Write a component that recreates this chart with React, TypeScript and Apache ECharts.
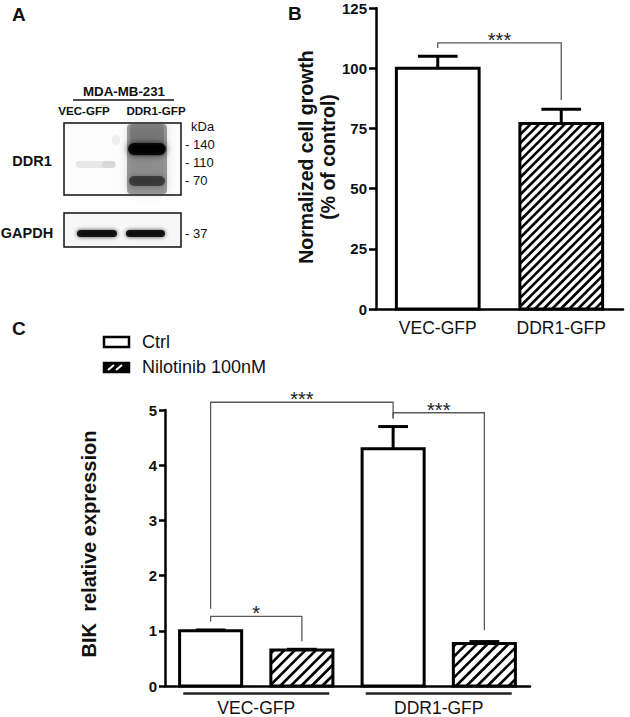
import React, { useEffect, useRef } from "react";
import * as echarts from "echarts";

// ---------- Panel B data ----------
const growthCategories = ["VEC-GFP", "DDR1-GFP"];
const growthValues = [100, 77];
const growthErrors = [5, 6];
const growthHatched = [0, 1];
// bracket: [catStart, offStart, catEnd, offEnd, topValue, leftEndValue, rightEndValue]
const growthBrackets = [[0, 0, 1, 0, 110.5, 108.4, 86.8]];
const growthBracketLabels = ["***"];

// ---------- Panel C data ----------
const bikCategories = ["VEC-GFP", "DDR1-GFP"];
const legendNames = ["Ctrl", "Nilotinib 100nM"];
const bikCtrl = [1.0, 4.3];
const bikCtrlErr = [0.015, 0.4];
const bikNilo = [0.65, 0.77];
const bikNiloErr = [0.015, 0.035];
const bikBrackets = [
  [0, -0.25, 1, -0.25, 5.14, 1.4, 4.86],
  [1, -0.25, 1, 0.25, 4.95, 4.84, 1.01],
  [0, -0.25, 0, 0.25, 1.26, 1.17, 0.81],
];
const bikBracketLabels = ["***", "***", "*"];

// ---------- Panel A texts ----------
const blotCellLine = "MDA-MB-231";
const blotLanes = ["VEC-GFP", "DDR1-GFP"];
const blotRows = ["DDR1", "GAPDH"];
const markerLabels = ["kDa", "- 140", "- 110", "- 70", "- 37"];

const FONT = "'Liberation Sans', Arial, Helvetica, sans-serif";

function makeBarRender(widthFrac: number, capFrac: number, spacing: number, hatchWidth: number) {
  return (params: any, api: any) => {
    const ci = api.value(0);
    const v = api.value(1);
    const err = api.value(2);
    const off = api.value(3);
    const hatched = api.value(4);
    const band = api.size([1, 0])[0];
    const p0 = api.coord([ci, 0]);
    const p1 = api.coord([ci, v]);
    const pe = api.coord([ci, v + err]);
    const cx = p0[0] + off * band;
    const w = band * widthFrac;
    const x0 = cx - w / 2;
    const x1 = cx + w / 2;
    const yTop = p1[1];
    const yBot = p0[1];
    const children: any[] = [
      { type: "rect", shape: { x: x0, y: yTop, width: w, height: yBot - yTop }, style: { fill: "#fff" } },
    ];
    if (hatched) {
      for (let c = x0 + yTop + spacing * 0.3; c < x1 + yBot; c += spacing) {
        const xs = Math.max(x0, c - yBot);
        const xe = Math.min(x1, c - yTop);
        if (xe > xs) {
          children.push({
            type: "line",
            shape: { x1: xs, y1: c - xs, x2: xe, y2: c - xe },
            style: { stroke: "#000", lineWidth: hatchWidth },
          });
        }
      }
    }
    children.push({
      type: "rect",
      shape: { x: x0, y: yTop, width: w, height: yBot - yTop },
      style: { fill: null, stroke: "#000", lineWidth: 3 },
    });
    if (err > 0) {
      children.push({
        type: "line",
        shape: { x1: cx, y1: yTop, x2: cx, y2: pe[1] },
        style: { stroke: "#000", lineWidth: 3 },
      });
      const cw = (w * capFrac) / 2;
      children.push({
        type: "line",
        shape: { x1: cx - cw, y1: pe[1], x2: cx + cw, y2: pe[1] },
        style: { stroke: "#000", lineWidth: 3 },
      });
    }
    return { type: "group", children };
  };
}

function makeBracketRender(labels: string[]) {
  return (params: any, api: any) => {
    const c0 = api.value(0);
    const o0 = api.value(1);
    const c1 = api.value(2);
    const o1 = api.value(3);
    const top = api.value(4);
    const le = api.value(5);
    const re = api.value(6);
    const band = api.size([1, 0])[0];
    const pl = api.coord([c0, top]);
    const pr = api.coord([c1, top]);
    const xL = pl[0] + o0 * band;
    const xR = pr[0] + o1 * band;
    const yT = pl[1];
    const yL = api.coord([c0, le])[1];
    const yR = api.coord([c1, re])[1];
    return {
      type: "group",
      children: [
        {
          type: "polyline",
          shape: { points: [[xL, yL], [xL, yT], [xR, yT], [xR, yR]] },
          style: { stroke: "#5a5a5a", lineWidth: 1.3, fill: null },
        },
        {
          type: "text",
          x: (xL + xR) / 2,
          y: yT - 3,
          style: {
            text: labels[params.dataIndex],
            font: `20px ${FONT}`,
            fill: "#222",
            align: "center",
            verticalAlign: "middle",
            textAlign: "center",
            textVerticalAlign: "middle",
          },
        },
      ],
    };
  };
}

function groupLineRender(params: any, api: any) {
  const ci = api.value(0);
  const band = api.size([1, 0])[0];
  const p = api.coord([ci, 0]);
  const hw = band * 0.4;
  return {
    type: "line",
    shape: { x1: p[0] - hw, y1: p[1] + 7.5, x2: p[0] + hw, y2: p[1] + 7.5 },
    style: { stroke: "#222", lineWidth: 2.5 },
  };
}

function blotGraphics(): any[] {
  const g: any[] = [];
  const txt = (text: string, x: number, y: number, font: string, align = "center") => ({
    type: "text",
    x,
    y,
    style: { text, font, fill: "#111", align, verticalAlign: "middle", textAlign: align, textVerticalAlign: "middle" },
  });
  const blur = (x: number, y: number, w: number, h: number, r: number, fill: string, b: number) => ({
    type: "rect",
    shape: { x, y, width: w, height: h, r },
    style: { fill, shadowBlur: b, shadowColor: fill },
  });
  // titles
  g.push(txt(blotCellLine, 124, 91, `bold 13.3px ${FONT}`));
  g.push({ type: "line", shape: { x1: 73, y1: 100, x2: 174, y2: 100 }, style: { stroke: "#111", lineWidth: 1.5 } });
  g.push(txt(blotLanes[0], 84, 110.5, `bold 11.6px ${FONT}`));
  g.push(txt(blotLanes[1], 156, 110.5, `bold 11.6px ${FONT}`));
  g.push(txt(blotRows[0], 32, 161, `bold 14.5px ${FONT}`));
  g.push(txt(blotRows[1], 27, 233, `bold 14.5px ${FONT}`));
  g.push(txt("*", 69, 167, `15px ${FONT}`));
  // marker labels
  g.push(txt(markerLabels[0], 191, 126, `13px ${FONT}`, "left"));
  g.push(txt(markerLabels[1], 185, 144, `13px ${FONT}`, "left"));
  g.push(txt(markerLabels[2], 185, 162, `13px ${FONT}`, "left"));
  g.push(txt(markerLabels[3], 185, 180, `13px ${FONT}`, "left"));
  g.push(txt(markerLabels[4], 185, 233, `13px ${FONT}`, "left"));

  // DDR1 blot
  g.push({ type: "rect", shape: { x: 64, y: 123, width: 117, height: 72 }, style: { fill: "#fcfcfc" } });
  // smear lane
  g.push(blur(127, 124, 40, 70, 4, "rgba(0,0,0,0.36)", 9));
  g.push(blur(130, 124, 34, 32, 4, "rgba(0,0,0,0.14)", 6));
  // upper band
  g.push(blur(128, 143, 38, 12, 6, "rgba(0,0,0,0.85)", 6));
  g.push(blur(131, 145, 32, 8, 4, "rgba(0,0,0,0.9)", 3));
  // lower band
  g.push(blur(129, 176, 36, 10, 5, "rgba(0,0,0,0.5)", 5));
  // faint VEC band
  g.push(blur(76, 161, 40, 7, 3, "rgba(0,0,0,0.08)", 5));
  g.push(blur(102, 161, 13, 7, 3, "rgba(0,0,0,0.06)", 4));
  g.push(blur(112, 135, 8, 10, 4, "rgba(0,0,0,0.05)", 4));
  g.push({ type: "rect", shape: { x: 64, y: 123, width: 117, height: 72 }, style: { fill: null, stroke: "#111", lineWidth: 1.5 } });

  // GAPDH blot
  g.push({ type: "rect", shape: { x: 64, y: 213, width: 117, height: 34 }, style: { fill: "#f7f7f7" } });
  g.push(blur(77, 230, 40, 7, 3.5, "rgba(0,0,0,0.85)", 4));
  g.push(blur(126, 230, 39, 7, 3.5, "rgba(0,0,0,0.85)", 4));
  g.push({ type: "rect", shape: { x: 64, y: 213, width: 117, height: 34 }, style: { fill: null, stroke: "#111", lineWidth: 1.5 } });
  return g;
}

function legendGraphics(): any[] {
  const g: any[] = [];
  g.push({ type: "rect", shape: { x: 104, y: 337, width: 25, height: 10 }, style: { fill: "#fff", stroke: "#000", lineWidth: 2.5 } });
  g.push({ type: "rect", shape: { x: 102.75, y: 361.75, width: 27.5, height: 11.5 }, style: { fill: "#000" } });
  g.push({ type: "line", shape: { x1: 108, y1: 370, x2: 114, y2: 365 }, style: { stroke: "#fff", lineWidth: 2 } });
  g.push({ type: "line", shape: { x1: 116, y1: 370, x2: 122, y2: 365 }, style: { stroke: "#fff", lineWidth: 2 } });
  const t = (text: string, y: number) => ({
    type: "text",
    x: 142,
    y,
    style: { text, font: `18px ${FONT}`, fill: "#111", align: "left", verticalAlign: "middle", textAlign: "left", textVerticalAlign: "middle" },
  });
  g.push(t(legendNames[0], 342));
  g.push(t(legendNames[1], 367));
  return g;
}

export default function App() {
  const ref = useRef<HTMLDivElement>(null);
  useEffect(() => {
    if (!ref.current) return;
    const chart = echarts.init(ref.current, undefined, { renderer: "svg" });
    const axisLineStyle = { color: "#000", width: 2.5 };
    const option: any = {
      animation: false,
      backgroundColor: "#fff",
      grid: [
        { left: 376, top: 8, width: 247, height: 301 },
        { left: 165, top: 410, width: 365, height: 278 },
      ],
      xAxis: [
        {
          type: "category",
          gridIndex: 0,
          data: growthCategories,
          axisLine: { lineStyle: axisLineStyle },
          axisTick: { show: false },
          axisLabel: { color: "#111", fontSize: 17.5, fontFamily: FONT, margin: 10 },
        },
        {
          type: "category",
          gridIndex: 1,
          data: bikCategories,
          axisLine: { lineStyle: axisLineStyle },
          axisTick: { show: false },
          axisLabel: { color: "#111", fontSize: 17.5, fontFamily: FONT, margin: 13 },
        },
      ],
      yAxis: [
        {
          type: "value",
          gridIndex: 0,
          min: 0,
          max: 125,
          interval: 25,
          axisLine: { show: true, lineStyle: axisLineStyle },
          axisTick: { show: true, length: 7, lineStyle: axisLineStyle },
          splitLine: { show: false },
          axisLabel: { color: "#111", fontSize: 15, fontWeight: "bold", fontFamily: FONT, margin: 9 },
        },
        {
          type: "value",
          gridIndex: 1,
          min: 0,
          max: 5,
          interval: 1,
          axisLine: { show: true, lineStyle: axisLineStyle },
          axisTick: { show: true, length: 6, lineStyle: axisLineStyle },
          splitLine: { show: false },
          axisLabel: { color: "#111", fontSize: 15, fontWeight: "bold", fontFamily: FONT, margin: 8 },
        },
      ],
      series: [
        {
          type: "custom",
          xAxisIndex: 0,
          yAxisIndex: 0,
          clip: false,
          renderItem: makeBarRender(0.67, 0.48, 8.6, 2.6),
          data: growthValues.map((v, i) => [i, v, growthErrors[i], 0, growthHatched[i]]),
        },
        {
          type: "custom",
          xAxisIndex: 0,
          yAxisIndex: 0,
          clip: false,
          renderItem: makeBracketRender(growthBracketLabels),
          data: growthBrackets,
        },
        {
          type: "custom",
          name: legendNames[0],
          xAxisIndex: 1,
          yAxisIndex: 1,
          clip: false,
          renderItem: makeBarRender(0.34, 0.48, 10.5, 2.6),
          data: bikCtrl.map((v, i) => [i, v, bikCtrlErr[i], -0.25, 0]),
        },
        {
          type: "custom",
          name: legendNames[1],
          xAxisIndex: 1,
          yAxisIndex: 1,
          clip: false,
          renderItem: makeBarRender(0.34, 0.48, 10.5, 2.6),
          data: bikNilo.map((v, i) => [i, v, bikNiloErr[i], 0.25, 1]),
        },
        {
          type: "custom",
          xAxisIndex: 1,
          yAxisIndex: 1,
          clip: false,
          renderItem: makeBracketRender(bikBracketLabels),
          data: bikBrackets,
        },
        {
          type: "custom",
          xAxisIndex: 1,
          yAxisIndex: 1,
          clip: false,
          renderItem: groupLineRender,
          data: bikCategories.map((_, i) => [i]),
        },
      ],
      graphic: [
        { type: "text", x: 12, y: 14, style: { text: "A", font: `bold 19px ${FONT}`, fill: "#111", verticalAlign: "middle", textVerticalAlign: "middle" } },
        { type: "text", x: 288, y: 13, style: { text: "B", font: `bold 19px ${FONT}`, fill: "#111", verticalAlign: "middle", textVerticalAlign: "middle" } },
        { type: "text", x: 12, y: 328, style: { text: "C", font: `bold 19px ${FONT}`, fill: "#111", verticalAlign: "middle", textVerticalAlign: "middle" } },
        {
          type: "text",
          x: 317,
          y: 157,
          rotation: Math.PI / 2,
          style: {
            text: "Normalized cell growth\n(% of control)",
            font: `bold 19.5px ${FONT}`,
            lineHeight: 22,
            fill: "#111",
            align: "center",
            verticalAlign: "middle",
            textAlign: "center",
            textVerticalAlign: "middle",
          },
        },
        {
          type: "text",
          x: 89,
          y: 544,
          rotation: Math.PI / 2,
          style: {
            text: "BIK  relative expression",
            font: `bold 20px ${FONT}`,
            fill: "#111",
            align: "center",
            verticalAlign: "middle",
            textAlign: "center",
            textVerticalAlign: "middle",
          },
        },
        ...blotGraphics(),
        ...legendGraphics(),
      ],
    };
    chart.setOption(option);
    return () => chart.dispose();
  }, []);
  return (
    <div
      ref={ref}
      style={{ position: "absolute", left: 0, top: 0, width: 630, height: 717, background: "#fff" }}
    />
  );
}
